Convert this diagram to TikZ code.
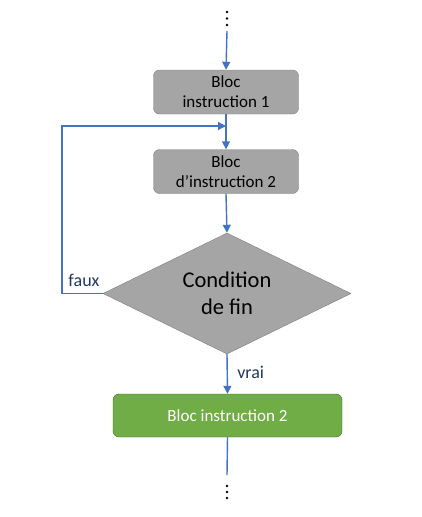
\documentclass[tikz,border=0pt]{standalone}
\usepackage{fontspec}
\setmainfont{Carlito}
\usetikzlibrary{shapes.geometric,arrows.meta}
\definecolor{lineblue}{HTML}{4472C4}
\definecolor{boxgray}{HTML}{A5A5A5}
\definecolor{bordergray}{HTML}{7F7F7F}
\definecolor{boxgreen}{HTML}{70AD47}
\definecolor{bordergreen}{HTML}{3E6B22}
\definecolor{labelblue}{HTML}{1F3864}
\tikzset{
  graybox/.style={draw=bordergray, fill=boxgray, rounded corners=6pt, minimum width=145pt, minimum height=44pt, align=center, font=\fontsize{17}{20}\selectfont, inner sep=0pt},
  greenbox/.style={draw=bordergreen, fill=boxgreen, rounded corners=6pt, minimum width=229pt, minimum height=43pt, align=center, font=\fontsize{17}{20}\selectfont, text=white, inner sep=0pt},
  cond/.style={diamond, draw=bordergray, fill=boxgray, minimum width=248pt, minimum height=121pt, inner sep=0pt, align=center, font=\fontsize{22.5}{27}\selectfont, aspect=2.05},
  flow/.style={draw=lineblue, line width=1.4pt, -{Triangle[length=8pt,width=8pt]}},
  flowline/.style={draw=lineblue, line width=1.4pt},
  lbl/.style={text=labelblue, font=\fontsize{18}{20}\selectfont},
  dot/.style={circle, fill=black, inner sep=0pt, minimum size=2.8pt}
}
\begin{document}
\begin{tikzpicture}[x=1pt,y=-1pt]
\useasboundingbox (0,0) rectangle (422,517);
\node[dot] (d1) at (227,12) {};
\node[dot] (d2) at (227,18.5) {};
\node[dot] (d3) at (227,25) {};
\coordinate (topstart) at (227,31);
\node[graybox] (b1) at (226,92) {Bloc\\instruction 1};
\node[graybox] (b2) at (226,171.5) {Bloc\\d’instruction 2};
\node[cond] (c) at (227,293.5) {Condition\\de fin};
\node[greenbox] (b3) at (227.5,415.5) {Bloc instruction 2};
\coordinate (botend) at (227,475);
\node[dot] (e1) at (227,486) {};
\node[dot] (e2) at (227,492) {};
\node[dot] (e3) at (227,498) {};
\coordinate (loopx) at (62,126);
\coordinate (merge) at (226,126);
\path[flow] (topstart) -- (b1.north);
\path[flow] (b1.south) -- (b2.north);
\path[flow] (b2.south) -- (c.north);
\path[flow] (c.south) -- node[lbl, right, xshift=6pt, yshift=2pt] {vrai} (b3.north);
\path[flowline] (b3.south) -- (botend);
\path[flow] (c.west) -- (c.west -| loopx) -- (loopx) -- (merge);
\node[lbl, anchor=south] (faux) at (84,290) {faux};
\end{tikzpicture}
\end{document}
